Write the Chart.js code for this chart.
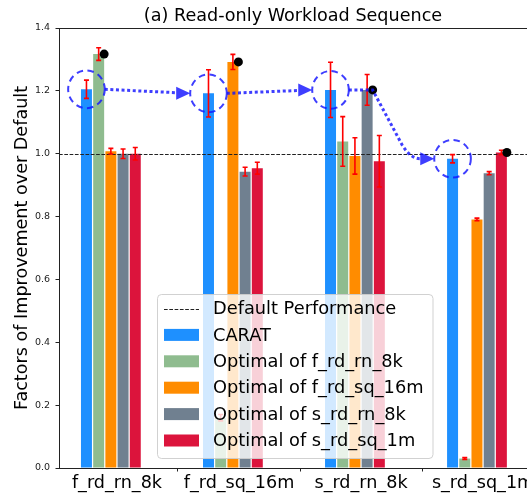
<!DOCTYPE html>
<html><head><meta charset="utf-8">
<script src="https://cdn.jsdelivr.net/npm/chart.js@4.4.1/dist/chart.umd.min.js"></script>
<style>html,body{margin:0;padding:0;background:#fff;overflow:hidden}#wrap{width:527px;height:493px;position:relative}</style>
</head><body><div id="wrap"><canvas id="c" width="527" height="493"></canvas></div>
<script>
// ---- data ----
const categories = ['f_rd_rn_8k', 'f_rd_sq_16m', 's_rd_rn_8k', 's_rd_sq_1m'];
const seriesNames = ['CARAT', 'Optimal of f_rd_rn_8k', 'Optimal of f_rd_sq_16m', 'Optimal of s_rd_rn_8k', 'Optimal of s_rd_sq_1m'];
const carat        = [1.205, 1.192, 1.203, 0.984];
const caratErr     = [0.029, 0.075, 0.088, 0.013];
const optFRdRn8k   = [1.317, 0.160, 1.039, 0.030];
const optFRdRn8kErr= [0.020, 0.010, 0.079, 0.003];
const optFRdSq16m  = [1.008, 1.292, 0.993, 0.791];
const optFRdSq16mErr=[0.009, 0.024, 0.058, 0.004];
const optSRdRn8k   = [1.000, 0.943, 1.203, 0.938];
const optSRdRn8kErr= [0.015, 0.014, 0.049, 0.005];
const optSRdSq1m   = [1.000, 0.954, 0.976, 1.004];
const optSRdSq1mErr= [0.020, 0.019, 0.082, 0.007];
const bestSeries   = [1, 2, 3, 4];       // series marked with a black dot in each group
const defaultLevel = 1.0;
const yTicks = [0.0, 0.2, 0.4, 0.6, 0.8, 1.0, 1.2, 1.4];

const seriesValues = [carat, optFRdRn8k, optFRdSq16m, optSRdRn8k, optSRdSq1m];
const seriesErrors = [caratErr, optFRdRn8kErr, optFRdSq16mErr, optSRdRn8kErr, optSRdSq1mErr];
const colors = ['#1E90FF', '#8FBC8F', '#FF8C00', '#708090', '#DC143C'];
const barW = 0.1;
const FONT = 'DejaVu Sans';

const datasets = seriesValues.map((vals, k) => ({
  label: seriesNames[k],
  data: vals.map((v, i) => ({ x: i + (k - 2.5) * barW, y: v })),
  backgroundColor: colors[k],
  borderWidth: 0,
  categoryPercentage: 1,
  barPercentage: 0.9,
  grouped: false
}));

function arrowHead(ctx, tipX, tipY, len, half) {
  ctx.beginPath();
  ctx.moveTo(tipX, tipY);
  ctx.lineTo(tipX - len, tipY - half);
  ctx.lineTo(tipX - len, tipY + half);
  ctx.closePath();
  ctx.fill();
}

const annot = {
  id: 'annot',
  afterDatasetsDraw(chart) {
    const ctx = chart.ctx, ca = chart.chartArea;
    const xs = chart.scales.x, ys = chart.scales.y;
    ctx.save();
    // top spine
    ctx.strokeStyle = '#222'; ctx.lineWidth = 1;
    ctx.beginPath(); ctx.moveTo(ca.left, Math.round(ca.top) + 0.5); ctx.lineTo(ca.right, Math.round(ca.top) + 0.5); ctx.stroke();
    // default line
    const yd = Math.round(ys.getPixelForValue(defaultLevel)) + 0.5;
    ctx.setLineDash([3.7, 1.6]);
    ctx.strokeStyle = '#222';
    ctx.beginPath(); ctx.moveTo(ca.left, yd); ctx.lineTo(ca.right, yd); ctx.stroke();
    ctx.setLineDash([]);
    // error bars
    ctx.strokeStyle = '#FF0000'; ctx.lineWidth = 1.6;
    seriesValues.forEach((vals, k) => {
      const meta = chart.getDatasetMeta(k);
      meta.data.forEach((el, i) => {
        const e = seriesErrors[k][i];
        const yt = ys.getPixelForValue(vals[i] + e), yb = ys.getPixelForValue(vals[i] - e);
        ctx.beginPath();
        ctx.moveTo(el.x, yt); ctx.lineTo(el.x, yb);
        ctx.moveTo(el.x - 2.5, yt); ctx.lineTo(el.x + 2.5, yt);
        ctx.moveTo(el.x - 2.5, yb); ctx.lineTo(el.x + 2.5, yb);
        ctx.stroke();
      });
    });
    // black dots
    ctx.fillStyle = '#000';
    bestSeries.forEach((k, i) => {
      const el = chart.getDatasetMeta(k).data[i];
      ctx.beginPath(); ctx.arc(el.x + el.width / 2, el.y, 4.5, 0, Math.PI * 2); ctx.fill();
    });
    // ellipses around CARAT
    const blue = 'rgba(20,20,255,0.82)';
    const cMeta = chart.getDatasetMeta(0);
    const ell = cMeta.data.map((el, i) => {
      const rx = (xs.getPixelForValue(0.15) - xs.getPixelForValue(0));
      const ry = (ys.getPixelForValue(0) - ys.getPixelForValue(0.06));
      return { cx: el.x, cy: ys.getPixelForValue(carat[i]), rx, ry };
    });
    ctx.strokeStyle = blue; ctx.fillStyle = blue; ctx.lineWidth = 2;
    ctx.setLineDash([6.5, 4.5]);
    ell.forEach(e => { ctx.beginPath(); ctx.ellipse(e.cx, e.cy, e.rx, e.ry, 0, 0, Math.PI * 2); ctx.stroke(); });
    // arrows
    const aLen = 14, aHalf = 6.5;
    ctx.lineWidth = 3; ctx.setLineDash([3, 2.6]);
    for (let i = 0; i < 2; i++) {
      const sx = ell[i].cx + ell[i].rx, sy = ell[i].cy;
      const tx = ell[i + 1].cx - ell[i + 1].rx, ty = ell[i + 1].cy;
      const ex = tx - aLen, eyy = sy + (ty - sy) * (ex - sx) / (tx - sx);
      ctx.beginPath(); ctx.moveTo(sx, sy); ctx.lineTo(ex, eyy); ctx.stroke();
      ctx.save(); ctx.setLineDash([]); arrowHead(ctx, tx, ty, aLen, aHalf); ctx.restore();
    }
    {
      const dotEl = chart.getDatasetMeta(bestSeries[2]).data[2];
      const sx = ell[2].cx + ell[2].rx, sy = ell[2].cy;
      const dx0 = dotEl.x + dotEl.width / 2;
      const tx = ell[3].cx - ell[3].rx, ty = ell[3].cy;
      const ex = tx - aLen;
      const dx = ex - dx0, dy = ty - sy;
      ctx.beginPath();
      ctx.moveTo(sx, sy); ctx.lineTo(dx0, sy);
      ctx.lineTo(dx0 + 0.62 * dx, sy + 0.8 * dy);
      ctx.quadraticCurveTo(dx0 + 0.8 * dx, ty, ex, ty);
      ctx.stroke();
      ctx.setLineDash([]); arrowHead(ctx, tx, ty, aLen, aHalf);
    }
    ctx.restore();
  },
  afterDraw(chart) {
    const ctx = chart.ctx, ca = chart.chartArea;
    ctx.save();
    // title
    ctx.fillStyle = '#000';
    ctx.font = '17.6px "' + FONT + '"';
    ctx.textAlign = 'center'; ctx.textBaseline = 'middle';
    ctx.fillText('(a) Read-only Workload Sequence', (ca.left + ca.right) / 2, ca.top - 12);
    // y title
    ctx.save();
    ctx.translate(22, (ca.top + ca.bottom) / 2);
    ctx.rotate(-Math.PI / 2);
    ctx.fillText('Factors of Improvement over Default', 0, 0);
    ctx.restore();
    // legend
    const fs = 17.8;
    ctx.font = fs + 'px "' + FONT + '"';
    const labels = ['Default Performance'].concat(seriesNames);
    let maxW = 0; labels.forEach(l => maxW = Math.max(maxW, ctx.measureText(l).width));
    const L = ca.left + 98, B = ca.bottom - 10;
    const W = 56 + maxW + 9, H = 164, T = B - H;
    ctx.beginPath();
    ctx.roundRect(L + 0.5, T + 0.5, W, H, 4);
    ctx.fillStyle = 'rgba(255,255,255,0.8)'; ctx.fill();
    ctx.strokeStyle = 'rgba(204,204,204,0.9)'; ctx.lineWidth = 1; ctx.stroke();
    ctx.textAlign = 'left'; ctx.textBaseline = 'middle';
    labels.forEach((lab, r) => {
      const cy = T + 14.5 + r * 26.4;
      if (r === 0) {
        ctx.strokeStyle = '#222'; ctx.lineWidth = 1; ctx.setLineDash([3.7, 1.6]);
        ctx.beginPath(); ctx.moveTo(L + 7, Math.round(cy) + 0.5); ctx.lineTo(L + 42, Math.round(cy) + 0.5); ctx.stroke();
        ctx.setLineDash([]);
      } else {
        ctx.fillStyle = colors[r - 1];
        ctx.fillRect(L + 7, cy - 6, 35, 12);
      }
      ctx.fillStyle = '#000';
      ctx.fillText(lab, L + 56, cy + 1);
    });
    ctx.restore();
  }
};

new Chart(document.getElementById('c'), {
  type: 'bar',
  data: { datasets },
  options: {
    responsive: false,
    animation: false,
    devicePixelRatio: 1,
    layout: { padding: { top: 28, left: 0, right: 0, bottom: 0 } },
    plugins: { legend: { display: false }, tooltip: { enabled: false }, title: { display: false } },
    scales: {
      x: {
        type: 'linear', offset: false,
        min: -0.475, max: 3.36,
        afterFit(s) { s.height = 25; s.paddingLeft = 0; s.paddingRight = 0; },
        afterBuildTicks(s) { s.ticks = categories.map((c, i) => ({ value: i })); },
        ticks: {
          autoSkip: false, maxRotation: 0, padding: 1,
          color: '#000', font: { family: FONT, size: 17.6 },
          callback: (v) => categories[v] ?? ''
        },
        grid: { display: true, drawOnChartArea: false, drawTicks: true, tickLength: 3.5, color: '#222', lineWidth: 1 },
        border: { display: true, color: '#222', width: 1 }
      },
      y: {
        min: 0, max: 1.4,
        afterFit(s) { s.width = 59; s.paddingTop = 0; s.paddingBottom = 0; },
        afterBuildTicks(s) { s.ticks = yTicks.map(v => ({ value: v })); },
        ticks: {
          padding: 5.5, color: '#222', font: { family: FONT, size: 9.5 },
          callback: (v) => Number(v).toFixed(1)
        },
        grid: { display: true, drawOnChartArea: false, drawTicks: true, tickLength: 3.5, color: '#222', lineWidth: 1 },
        border: { display: true, color: '#222', width: 1 }
      }
    }
  },
  plugins: [annot]
});
</script>
</body></html>
